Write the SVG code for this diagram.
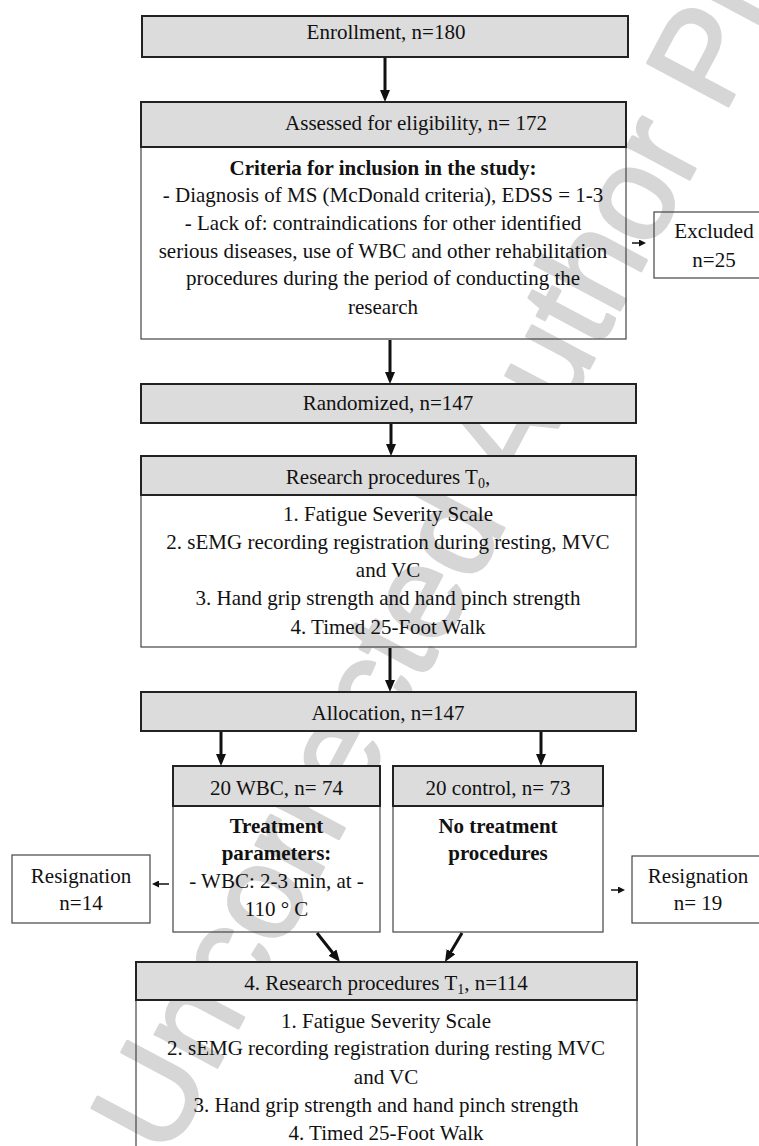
<svg xmlns="http://www.w3.org/2000/svg" width="759" height="1146" viewBox="0 0 759 1146">
<style>
.hdr{fill:#dcdcdc;stroke:#222;stroke-width:2}
.bd{fill:none;stroke:#444;stroke-width:1.2}
.t{font-family:"Liberation Serif","Times New Roman",serif;font-size:21px;fill:#111;text-anchor:middle}
.b{font-weight:bold}
.wm{font-family:"Liberation Sans",Arial,sans-serif;font-size:133px;fill:#d6d6d6;stroke:#d6d6d6;stroke-width:3;stroke-linejoin:round}
.c{stroke:#111;stroke-width:3;fill:none}
.cs{stroke:#111;stroke-width:1.5;fill:none}
</style>
<defs>
<marker id="ah" viewBox="0 0 12 10" refX="4" refY="5" markerWidth="12" markerHeight="10" markerUnits="userSpaceOnUse" orient="auto"><path d="M0,0 L12,5 L0,10 z" fill="#111"/></marker>
<marker id="ahs" viewBox="0 0 7 7" refX="3" refY="3.5" markerWidth="7" markerHeight="7" markerUnits="userSpaceOnUse" orient="auto"><path d="M0,0 L7,3.5 L0,7 z" fill="#111"/></marker>
</defs>
<rect width="759" height="1146" fill="#fff"/>
<text class="wm" transform="translate(168,1160) rotate(-62)">Uncorrected Author Proof</text>

<g id="enrollment">
<rect class="hdr" x="142" y="16" width="486" height="41"/>
<text class="t" x="386" y="39">Enrollment, n=180</text>
</g>
<g id="assessed">
<rect class="bd" x="141" y="147" width="485" height="192"/>
<rect class="hdr" x="141" y="102" width="485" height="45"/>
<text class="t" x="416" y="130">Assessed for eligibility, n= 172</text>
<text class="t b" x="383" y="175">Criteria for inclusion in the study:</text>
<text class="t" x="383" y="202">- Diagnosis of MS (McDonald criteria), EDSS = 1-3</text>
<text class="t" x="383" y="230">- Lack of: contraindications for other identified</text>
<text class="t" x="383" y="258">serious diseases, use of WBC and other rehabilitation</text>
<text class="t" x="383" y="285">procedures during the period of conducting the</text>
<text class="t" x="383" y="314">research</text>
</g>
<g id="excluded">
<rect class="bd" x="654" y="212" width="120" height="66"/>
<text class="t" x="714" y="238">Excluded</text>
<text class="t" x="714" y="267">n=25</text>
</g>
<g id="randomized">
<rect class="hdr" x="141" y="384" width="495" height="39"/>
<text class="t" x="388" y="410">Randomized, n=147</text>
</g>
<g id="t0">
<rect class="bd" x="141" y="495" width="495" height="152"/>
<rect class="hdr" x="141" y="456" width="495" height="39"/>
<text class="t" x="388" y="484">Research procedures T<tspan font-size="14" dy="4">0</tspan><tspan dy="-4">,</tspan></text>
<text class="t" x="388" y="521">1. Fatigue Severity Scale</text>
<text class="t" x="388" y="549">2. sEMG recording registration during resting, MVC</text>
<text class="t" x="388" y="577">and VC</text>
<text class="t" x="388" y="605">3. Hand grip strength and hand pinch strength</text>
<text class="t" x="388" y="634">4. Timed 25-Foot Walk</text>
</g>
<g id="allocation">
<rect class="hdr" x="141" y="692" width="495" height="39"/>
<text class="t" x="388" y="720">Allocation, n=147</text>
</g>
<g id="wbc">
<rect class="bd" x="173" y="806" width="207" height="126"/>
<rect class="hdr" x="173" y="766" width="207" height="40"/>
<text class="t" x="276.5" y="795">20 WBC, n= 74</text>
<text class="t b" x="276.5" y="833">Treatment</text>
<text class="t b" x="276.5" y="860">parameters:</text>
<text class="t" x="276.5" y="888">- WBC: 2-3 min, at -</text>
<text class="t" x="276.5" y="916">110 ° C</text>
</g>
<g id="control">
<rect class="bd" x="393" y="806" width="210" height="126"/>
<rect class="hdr" x="393" y="766" width="210" height="40"/>
<text class="t" x="498" y="795">20 control, n= 73</text>
<text class="t b" x="498" y="833">No treatment</text>
<text class="t b" x="498" y="860">procedures</text>
</g>
<g id="resignation-left">
<rect class="bd" x="12" y="855" width="138" height="68"/>
<text class="t" x="81" y="883">Resignation</text>
<text class="t" x="81" y="910">n=14</text>
</g>
<g id="resignation-right">
<rect class="bd" x="632" y="856" width="138" height="67"/>
<text class="t" x="698" y="883">Resignation</text>
<text class="t" x="698" y="910">n= 19</text>
</g>
<g id="t1">
<rect class="bd" x="136" y="1000" width="501" height="150"/>
<rect class="hdr" x="136" y="962" width="501" height="38"/>
<text class="t" x="386" y="990">4. Research procedures T<tspan font-size="14" dy="4">1</tspan><tspan dy="-4">, n=114</tspan></text>
<text class="t" x="386" y="1028">1. Fatigue Severity Scale</text>
<text class="t" x="386" y="1055">2. sEMG recording registration during resting MVC</text>
<text class="t" x="386" y="1084">and VC</text>
<text class="t" x="386" y="1112">3. Hand grip strength and hand pinch strength</text>
<text class="t" x="386" y="1140">4. Timed 25-Foot Walk</text>
</g>

<g id="connectors">
<line class="c" x1="385" y1="58" x2="385" y2="94" marker-end="url(#ah)"/>
<line class="c" x1="390" y1="340" x2="390" y2="376" marker-end="url(#ah)"/>
<line class="c" x1="391" y1="424" x2="391" y2="448" marker-end="url(#ah)"/>
<line class="c" x1="390" y1="648" x2="390" y2="684" marker-end="url(#ah)"/>
<line class="c" x1="221" y1="732" x2="221" y2="758" marker-end="url(#ah)"/>
<line class="c" x1="541" y1="732" x2="541" y2="758" marker-end="url(#ah)"/>
<line class="c" x1="317" y1="933" x2="335" y2="955.7" marker-end="url(#ah)"/>
<line class="c" x1="462" y1="933" x2="449" y2="955.1" marker-end="url(#ah)"/>
<line class="cs" x1="632" y1="243" x2="642" y2="243" marker-end="url(#ahs)"/>
<line class="cs" x1="169" y1="884" x2="156" y2="884" marker-end="url(#ahs)"/>
<line class="cs" x1="611" y1="890" x2="621" y2="890" marker-end="url(#ahs)"/>
</g>
</svg>
